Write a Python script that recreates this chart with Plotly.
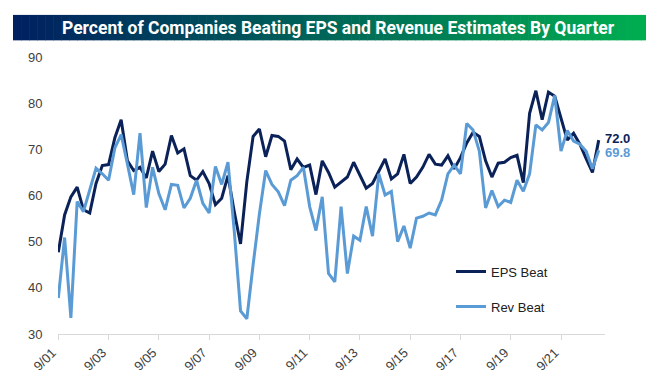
import plotly.graph_objects as go

# quarter labels (month/yy), starting Sep 2001
quarters = []
for k in range(87):
    m = [9, 12, 3, 6][k % 4]
    y = 2001 + (k + 1) // 4
    quarters.append(f"{m}/{y % 100:02d}")

tick_labels = ["9/01", "9/03", "9/05", "9/07", "9/09", "9/11", "9/13", "9/15", "9/17", "9/19", "9/21"]

eps_beat = [47.7, 55.8, 59.7, 61.8, 56.9, 56.2, 62.6, 66.5, 66.7, 72.5,
            76.4, 67.5, 65.4, 66.1, 63.8, 69.6, 65.2, 66.8, 73.0, 69.2,
            70.1, 64.3, 63.3, 65.2, 62.6, 58.0, 59.4, 64.3, 56.5, 49.5,
            63.0, 72.8, 74.4, 68.4, 73.0, 72.8, 71.8, 65.6, 67.9, 66.1,
            66.6, 60.2, 67.5, 65.0, 61.8, 62.8, 64.0, 67.2, 64.3, 61.6,
            62.6, 65.2, 67.9, 63.6, 64.7, 68.9, 62.6, 64.0, 66.1, 68.9,
            66.8, 66.6, 68.6, 65.8, 68.2, 71.4, 73.7, 72.8, 67.5, 64.0,
            67.0, 67.2, 68.2, 68.7, 62.8, 77.8, 82.7, 76.4, 82.4, 81.5,
            76.5, 72.0, 73.5, 71.1, 68.0, 65.0, 72.0]

rev_beat = [37.8, 50.9, 33.5, 58.7, 56.5, 61.1, 65.9, 64.7, 63.3, 70.3,
            73.2, 66.8, 60.2, 73.5, 57.4, 66.1, 60.4, 56.9, 62.4, 62.2,
            57.3, 59.4, 63.3, 58.3, 56.2, 66.3, 62.4, 67.2, 52.3, 35.0,
            33.3, 45.0, 56.0, 65.4, 62.4, 60.8, 57.8, 63.3, 64.3, 66.1,
            57.6, 52.4, 59.7, 43.1, 41.3, 57.6, 43.1, 51.2, 50.3, 57.6,
            51.2, 64.7, 60.1, 60.9, 50.0, 53.4, 48.6, 55.1, 55.5, 56.2,
            55.8, 59.0, 64.7, 66.6, 64.7, 75.6, 74.2, 69.6, 57.3, 61.1,
            57.6, 59.0, 58.5, 63.3, 60.9, 64.7, 75.3, 74.2, 75.8, 81.7,
            69.6, 74.1, 71.8, 71.1, 69.6, 65.8, 69.8]

EPS_COLOR = "#0b2259"
REV_COLOR = "#5b9bd5"

W, H = 654, 378
ML, MR, MT, MB = 50, 57, 49, 46
PW = W - ML - MR
PH = H - MT - MB

fig = go.Figure()
fig.add_trace(go.Scatter(x=quarters, y=eps_beat, mode="lines", name="EPS Beat",
                         line=dict(color=EPS_COLOR, width=3), legendgroup="a"))
fig.add_trace(go.Scatter(x=quarters, y=rev_beat, mode="lines", name="Rev Beat",
                         line=dict(color=REV_COLOR, width=3), legendgroup="b"))

# end labels
fig.add_annotation(x=quarters[-1], y=eps_beat[-1], text=f"<b>{eps_beat[-1]:.1f}</b>",
                   showarrow=False, xanchor="left", yanchor="middle", xshift=4, yshift=2,
                   font=dict(color=EPS_COLOR, size=13, family="Liberation Sans"))
fig.add_annotation(x=quarters[-1], y=rev_beat[-1], text=f"<b>{rev_beat[-1]:.1f}</b>",
                   showarrow=False, xanchor="left", yanchor="middle", xshift=4, yshift=-2,
                   font=dict(color=REV_COLOR, size=13, family="Liberation Sans"))

# title banner with horizontal gradient
def px_to_paper_x(px):
    return (px - ML) / PW

def px_to_paper_y(py):
    return (H - MB - py) / PH

bx0, bx1, by0, by1 = 5, 649, 6, 32
n = 80
c0 = (0, 32, 96)
c1 = (0, 176, 80)
for k in range(n):
    t = k / (n - 1)
    col = tuple(round(c0[j] + (c1[j] - c0[j]) * t) for j in range(3))
    xa = bx0 + (bx1 - bx0) * k / n
    xb = bx0 + (bx1 - bx0) * (k + 1) / n + 0.6
    fig.add_shape(type="rect", xref="paper", yref="paper",
                  x0=px_to_paper_x(xa), x1=px_to_paper_x(min(xb, bx1)),
                  y0=px_to_paper_y(by1), y1=px_to_paper_y(by0),
                  fillcolor=f"rgb{col}", line=dict(width=0), layer="below")

fig.add_annotation(xref="paper", yref="paper", x=px_to_paper_x(330), y=px_to_paper_y(19.5),
                   text="<b>Percent of Companies Beating EPS and Revenue Estimates By Quarter</b>",
                   showarrow=False, xanchor="center", yanchor="middle",
                   font=dict(color="white", size=17.5, family="Liberation Sans Narrow, Roboto, Liberation Sans"))

tickvals = [quarters[i] for i in range(0, 87, 8)][:len(tick_labels)]

fig.update_layout(
    width=W, height=H,
    margin=dict(l=ML, r=MR, t=MT, b=MB),
    paper_bgcolor="white", plot_bgcolor="white",
    font=dict(family="Liberation Sans", size=13, color="#404040"),
    showlegend=True,
    legend=dict(x=px_to_paper_x(443), y=px_to_paper_y(253), xanchor="left", yanchor="top",
                bgcolor="rgba(0,0,0,0)", font=dict(size=13, color="#202020"),
                tracegroupgap=15, itemwidth=30, traceorder="grouped"),
    xaxis=dict(type="category", range=[-0.05, 87], tickmode="array",
               tickvals=tickvals, ticktext=tick_labels, tickangle=-45,
               showgrid=False, showline=True, linecolor="#d9d9d9", linewidth=1,
               ticks="outside", ticklen=5, tickcolor="#d9d9d9", ticklabelshift=-6,
               tickfont=dict(size=13, color="#404040"), zeroline=False),
    yaxis=dict(range=[30, 90], tickvals=[30, 40, 50, 60, 70, 80, 90],
               showgrid=False, showline=False, zeroline=False,
               ticks="outside", ticklen=12, tickcolor="rgba(0,0,0,0)",
               tickfont=dict(size=13, color="#404040")),
)

fig.write_html("out.html")
